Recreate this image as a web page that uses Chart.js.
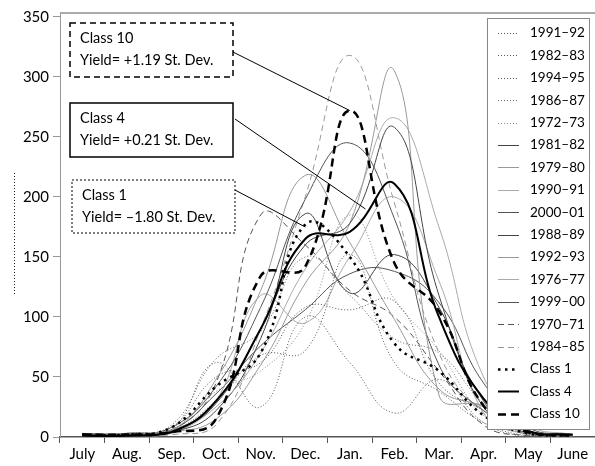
<!DOCTYPE html>
<html lang="en">
<head>
<meta charset="UTF-8"/>
<title>Seasonal curves by year and class</title>
<style>
    html, body {
        margin: 0;
        padding: 0;
        background: #fff;
        overflow: hidden;
    }
    #wrap {
        width: 595px;
        height: 466px;
        position: relative;
    }
</style>
</head>
<body>
<div id="wrap"><canvas id="chart" width="595" height="466"></canvas></div>

<script src="https://cdn.jsdelivr.net/npm/chart.js"></script>
<script>
// month labels (category positions 0..11) and y tick values
const months = ['July', 'Aug.', 'Sep.', 'Oct.', 'Nov.', 'Dec.', 'Jan.', 'Feb.', 'Mar.', 'Apr.', 'May', 'June'];
const yTicks = [0, 50, 100, 150, 200, 250, 300, 350];

// single years, July..June
const s1991_92 = [1, 2, 6, 62, 25, 100, 62, 20, 48, 12, 0, 0];
const s1982_83 = [2, 2, 8, 50, 62, 108, 106, 113, 45, 22, 2, 0];
const s1994_95 = [1, 1, 5, 30, 68, 72, 152, 62, 38, 12, 1, 0];
const s1986_87 = [2, 3, 10, 65, 88, 150, 118, 82, 70, 28, 5, 2];
const s1972_73 = [1, 2, 5, 38, 55, 95, 185, 115, 72, 18, 2, 1];
const s1981_82 = [2, 2, 5, 28, 90, 160, 178, 258, 118, 30, 5, 1];
const s1979_80 = [1, 2, 4, 15, 60, 128, 178, 305, 35, 26, 2, 0];
const s1990_91 = [2, 3, 6, 25, 70, 140, 188, 266, 175, 50, 10, 2];
const s2000_01 = [2, 3, 8, 42, 108, 198, 245, 182, 60, 22, 3, 1];
const s1988_89 = [3, 2, 4, 22, 82, 186, 120, 152, 108, 25, 5, 2];
const s1992_93 = [1, 2, 5, 48, 122, 218, 162, 98, 40, 25, 3, 1];
const s1976_77 = [1, 1, 3, 30, 118, 95, 150, 200, 130, 20, 2, 0];
const s1999_00 = [2, 3, 6, 36, 76, 106, 136, 138, 112, 45, 8, 2];
const s1970_71 = [2, 2, 5, 45, 185, 160, 122, 100, 55, 10, 1, 0];
const s1984_85 = [1, 1, 2, 10, 90, 200, 318, 195, 70, 20, 2, 0];

// class means
const class1 = [2, 2, 8, 42, 70, 177, 150, 78, 55, 18, 3, 1];
const class4 = [1, 1, 4, 30, 90, 165, 171, 211, 100, 32, 5, 2];
const class10 = [2, 2, 4, 15, 134, 142, 272, 145, 105, 26, 4, 1];

// line styles
const DOT = [1, 2];
const DASH = [6, 4];
const series = [
    { label: '1991–92', data: s1991_92, color: '#555', width: 1, dash: DOT },
    { label: '1982–83', data: s1982_83, color: '#555', width: 1, dash: DOT },
    { label: '1994–95', data: s1994_95, color: '#555', width: 1, dash: DOT },
    { label: '1986–87', data: s1986_87, color: '#666', width: 1, dash: DOT },
    { label: '1972–73', data: s1972_73, color: '#888', width: 1, dash: DOT },
    { label: '1981–82', data: s1981_82, color: '#444', width: 1, dash: [] },
    { label: '1979–80', data: s1979_80, color: '#999', width: 1, dash: [] },
    { label: '1990–91', data: s1990_91, color: '#aaa', width: 1, dash: [] },
    { label: '2000–01', data: s2000_01, color: '#555', width: 1, dash: [] },
    { label: '1988–89', data: s1988_89, color: '#444', width: 1, dash: [] },
    { label: '1992–93', data: s1992_93, color: '#999', width: 1, dash: [] },
    { label: '1976–77', data: s1976_77, color: '#aaa', width: 1, dash: [] },
    { label: '1999–00', data: s1999_00, color: '#555', width: 1, dash: [] },
    { label: '1970–71', data: s1970_71, color: '#555', width: 1, dash: DASH },
    { label: '1984–85', data: s1984_85, color: '#999', width: 1, dash: DASH },
    { label: 'Class 1', data: class1, color: '#000', width: 2.5, dash: [2.5, 4.5], top: true },
    { label: 'Class 4', data: class4, color: '#000', width: 2, dash: [], top: true },
    { label: 'Class 10', data: class10, color: '#000', width: 2.5, dash: [8, 5], top: true }
];

// annotation boxes: text, border style, box in pixels, leader target in data units
const notes = [
    { lines: ['Class 10', 'Yield= +1.19 St. Dev.'], dash: [6, 4], lw: 1.5, box: [70, 23, 163, 54], from: [233, 52], to: [6, 272] },
    { lines: ['Class 4', 'Yield= +0.21 St. Dev.'], dash: [], lw: 1.5, box: [70, 103, 163, 54], from: [235, 119], to: [6.35, 190] },
    { lines: ['Class 1', 'Yield= –1.80 St. Dev.'], dash: [2, 2], lw: 1, box: [72, 180, 163, 53], from: [235, 190], to: [5, 175] }
];

const FONT = 'Lato, "Open Sans", sans-serif';

const decorPlugin = {
    id: 'decor',
    beforeDatasetsDraw(chart) {
        const { ctx, chartArea } = chart;
        ctx.save();
        // top frame line
        ctx.strokeStyle = '#aaa';
        ctx.lineWidth = 2;
        ctx.beginPath();
        ctx.moveTo(chartArea.left, chartArea.top);
        ctx.lineTo(chartArea.right, chartArea.top);
        ctx.stroke();
        // dotted stub where the y title sits
        ctx.strokeStyle = '#222';
        ctx.lineWidth = 1;
        ctx.setLineDash([1, 2]);
        ctx.beginPath();
        ctx.moveTo(14.5, 173);
        ctx.lineTo(14.5, 294);
        ctx.stroke();
        ctx.restore();
    },
    afterDatasetsDraw(chart) {
        const { ctx } = chart;
        const xs = chart.scales.x, ys = chart.scales.y;
        ctx.save();

        // annotation boxes + leaders
        notes.forEach(n => {
            const [bx, by, bw, bh] = n.box;
            ctx.fillStyle = '#fff';
            ctx.fillRect(bx, by, bw, bh);
            ctx.strokeStyle = '#000';
            ctx.lineWidth = n.lw;
            ctx.setLineDash(n.dash);
            ctx.strokeRect(bx, by, bw, bh);
            ctx.setLineDash([]);
            ctx.lineWidth = 1;
            ctx.beginPath();
            ctx.moveTo(n.from[0], n.from[1]);
            ctx.lineTo(xs.getPixelForValue(n.to[0]), ys.getPixelForValue(n.to[1]));
            ctx.stroke();
            ctx.fillStyle = '#000';
            ctx.font = '14.5px ' + FONT;
            ctx.textBaseline = 'middle';
            ctx.textAlign = 'left';
            ctx.fillText(n.lines[0], bx + 10, by + 15);
            ctx.fillText(n.lines[1], bx + 10, by + 37);
        });

        // legend box
        const lx = 487.5, ly = 18.5, lw = 102, lh = 411;
        ctx.fillStyle = '#fff';
        ctx.fillRect(lx, ly, lw, lh);
        ctx.strokeStyle = '#888';
        ctx.lineWidth = 1;
        ctx.strokeRect(lx, ly, lw, lh);
        ctx.font = '13.5px ' + FONT;
        ctx.textBaseline = 'middle';
        series.forEach((s, i) => {
            const y = 33 + i * 22.4;
            ctx.strokeStyle = s.color;
            ctx.lineWidth = s.width;
            ctx.setLineDash(s.dash);
            ctx.beginPath();
            ctx.moveTo(498, Math.round(y) + 0.5);
            ctx.lineTo(519, Math.round(y) + 0.5);
            ctx.stroke();
            ctx.setLineDash([]);
            ctx.fillStyle = '#000';
            ctx.fillText(s.label, 530, y);
        });
        ctx.restore();
    }
};

new Chart(document.getElementById('chart'), {
    type: 'line',
    data: {
        datasets: series.map(s => ({
            label: s.label,
            data: s.data.map((v, i) => ({ x: i, y: v })),
            borderColor: s.color,
            borderWidth: s.width,
            borderDash: s.dash,
            tension: 0.45,
            pointRadius: 0,
            fill: false,
            order: s.top ? 0 : 1
        }))
    },
    options: {
        responsive: false,
        animation: false,
        layout: { padding: { top: 10, right: 0, left: 0, bottom: 0 } },
        plugins: {
            legend: { display: false },
            tooltip: { enabled: false }
        },
        scales: {
            x: {
                type: 'linear',
                min: -0.5,
                max: 11.5,
                afterBuildTicks: axis => { axis.ticks = months.map((m, i) => ({ value: i })); },
                afterFit: axis => { axis.height = 29; },
                grid: { offset: true, drawOnChartArea: false, tickLength: 6, color: '#555' },
                border: { color: '#555', width: 1.5 },
                ticks: {
                    autoSkip: false,
                    maxRotation: 0,
                    padding: 2,
                    color: '#000',
                    font: { family: FONT, size: 15 },
                    callback: v => months[v]
                }
            },
            y: {
                min: 0,
                max: 353.3,
                afterBuildTicks: axis => { axis.ticks = yTicks.map(v => ({ value: v })); },
                afterFit: axis => { axis.width = 60; },
                grid: { drawOnChartArea: false, tickLength: 7, color: '#999' },
                border: { color: '#999', width: 1 },
                ticks: {
                    padding: 4,
                    color: '#000',
                    font: { family: FONT, size: 15 }
                }
            }
        }
    },
    plugins: [decorPlugin]
});
</script>
</body>
</html>
